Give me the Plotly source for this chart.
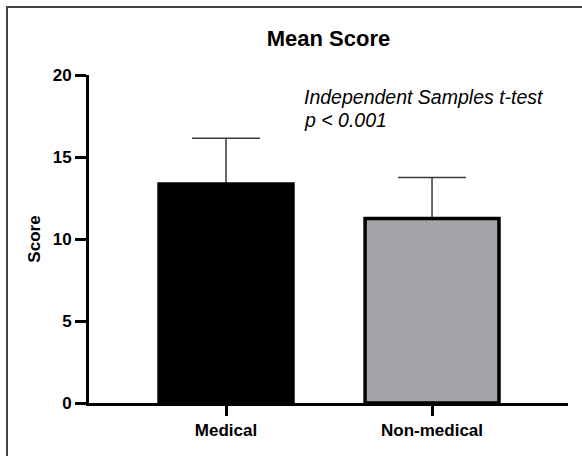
import plotly.graph_objects as go

categories = ["Medical", "Non-medical"]
means = [13.35, 11.25]
sd_upper = [2.8, 2.5]
sd_lower = [0, 0]
bar_colors = ["#000000", "#a3a2a7"]
y_ticks = [0, 5, 10, 15, 20]

W, H = 582, 456
L, R, T, B = 89, 14, 75, 53
pw = W - L - R
ph = H - T - B

def px_x(x):
    return (x - L) / pw

def px_y(y):
    return (H - B - y) / ph

FONT = "Liberation Sans, Arial, sans-serif"

fig = go.Figure()
# error bars (drawn first, so the bars' outlines cover the lower caps)
fig.add_trace(go.Bar(
    x=categories,
    y=means,
    width=0.65,
    marker=dict(color="rgba(0,0,0,0)", line=dict(width=0)),
    error_y=dict(type="data", symmetric=False, array=sd_upper, arrayminus=sd_lower,
                 color="#3a3a3a", thickness=1.5, width=34),
    hoverinfo="skip",
))
fig.add_trace(go.Bar(
    x=categories,
    y=means,
    width=0.65,
    marker=dict(color=bar_colors, line=dict(color="#000000", width=3.5)),
))

fig.update_layout(
    width=W, height=H,
    barmode="overlay",
    margin=dict(l=L, r=R, t=T, b=B),
    paper_bgcolor="white", plot_bgcolor="white",
    showlegend=False,
    font=dict(family=FONT, color="black"),
    title=dict(text="Mean Score", x=0.5, xref="paper", xanchor="center",
               y=1 - 38 / H, yref="container", yanchor="middle",
               font=dict(size=22, family=FONT, color="black", weight="bold")),
    xaxis=dict(range=[-0.665, 1.66], showline=True, linecolor="black", linewidth=3,
               ticks="outside", tickwidth=3, ticklen=10, tickcolor="black",
               showgrid=False, zeroline=False,
               tickfont=dict(size=17, family=FONT, color="black", weight="bold")),
    yaxis=dict(range=[0, 20], tickvals=y_ticks, showline=True, linecolor="black", linewidth=3,
               ticks="outside", tickwidth=3, ticklen=11, tickcolor="black",
               showgrid=False, zeroline=False,
               tickfont=dict(size=17, family=FONT, color="black", weight="bold"),
               title=dict(text="Score", font=dict(size=17, family=FONT, color="black", weight="bold"),
                          standoff=8)),
)

fig.add_annotation(text="<i>Independent Samples t-test</i>", xref="paper", yref="paper",
                   x=px_x(302), y=px_y(97), xanchor="left", yanchor="middle", showarrow=False,
                   font=dict(size=19.5, family=FONT, color="black"))
fig.add_annotation(text="<i>p < 0.001</i>", xref="paper", yref="paper",
                   x=px_x(302), y=px_y(120), xanchor="left", yanchor="middle", showarrow=False,
                   font=dict(size=19.5, family=FONT, color="black"))

# frame around the figure (left and top edges visible)
fig.add_shape(type="rect", xref="paper", yref="paper",
              x0=px_x(7), x1=px_x(W + 5), y0=px_y(H + 5), y1=px_y(7),
              line=dict(color="#444444", width=2), fillcolor="rgba(0,0,0,0)", layer="above")

fig.write_html("out.html", config={"displayModeBar": False},
               post_script="document.body.style.margin='0';document.body.style.overflow='hidden';")
